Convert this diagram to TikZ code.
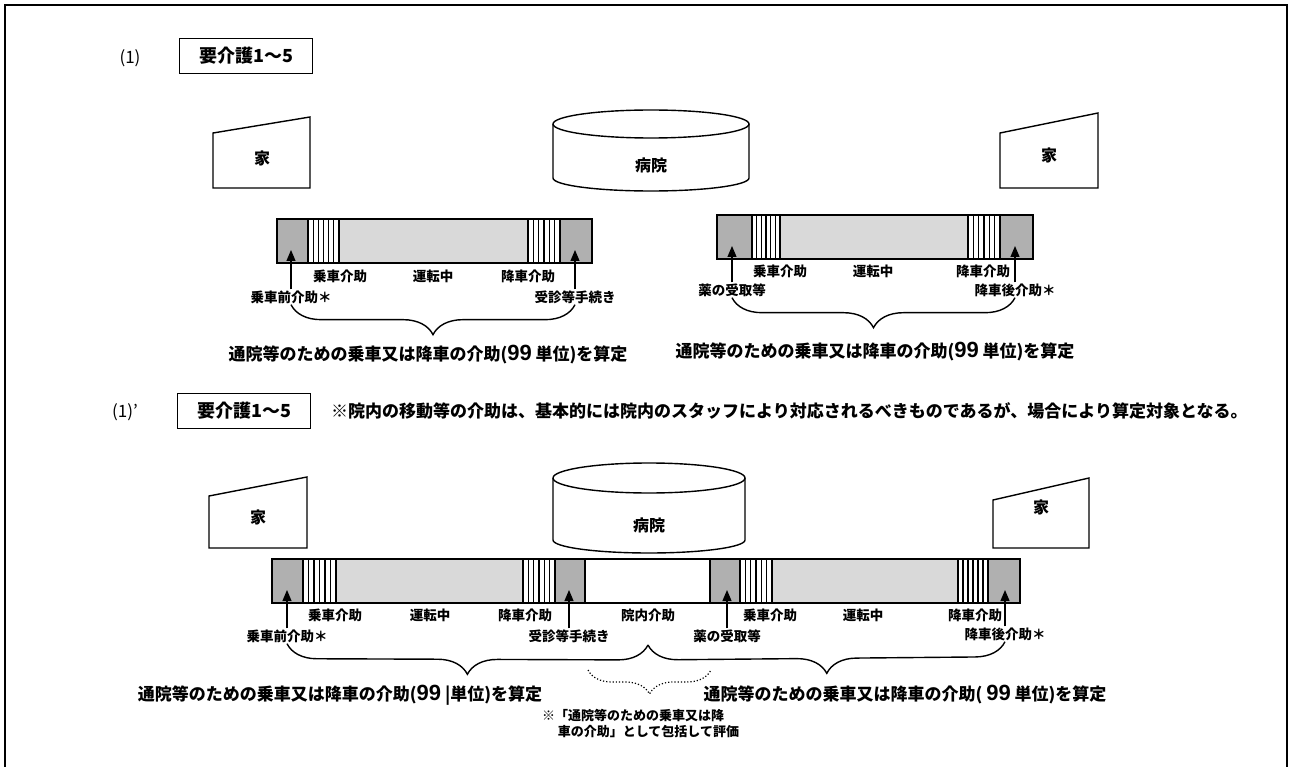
\documentclass[tikz,border=0pt]{standalone}
\usepackage{fontspec}
\setmainfont{Noto Sans CJK JP}
\newfontfamily\arialfont{Liberation Sans}
\usetikzlibrary{arrows.meta,calc,decorations.pathreplacing,positioning}
\newcommand{\nn}[1]{{\arialfont\bfseries\fontsize{22}{22}\selectfont #1}}

\begin{document}
\begin{tikzpicture}[x=1pt,y=-1pt]
  \tikzstyle{lbl}=[font=\bfseries\fontsize{13.5}{14}\selectfont,inner sep=1]
  \tikzstyle{big}=[font=\bfseries\fontsize{17}{18}\selectfont,inner sep=1]
  \tikzstyle{place}=[font=\bfseries\fontsize{16}{16}\selectfont,inner sep=1]
  \tikzstyle{tag}=[draw,line width=1.4,minimum width=133,minimum height=35,%
    font=\bfseries\fontsize{18}{18}\selectfont]
  \tikzstyle{seg}=[draw,line width=1.4,minimum height=44,inner sep=0,%
    outer sep=0,anchor=west]
  \tikzstyle{dark}=[seg,fill=gray!62]
  \tikzstyle{dots}=[seg,fill=gray!30]
  \tikzstyle{lines}=[seg,fill=white,path picture={%
    \foreach \k in {1,...,5}{\draw[line width=1.2]
      ($(path picture bounding box.north west)!\k/6!(path picture bounding box.north east)$)
      -- ++(0,60);}}]
  \tikzstyle{arr}=[-{Triangle[length=11pt,width=9pt]},line width=1.2,shorten >=9pt]
  \tikzstyle{brc}=[decorate,decoration={brace,mirror,amplitude=30pt},line width=1.4]
  \tikzstyle{outline}=[line width=1.4]

  \useasboundingbox (0,0) rectangle (1290,767);
  \draw[line width=2.5] (5,767) -- (5,5) -- (1287,5) -- (1287,767);

  % (1)
  \node[font=\fontsize{17}{17}\selectfont] (n1) at (130,58) {(1)};
  \node[tag] (k1) at (246,56) {要介護1～5};

  \draw[outline] (213,188) -- (213,133) -- (310,117) -- (310,188) -- cycle;
  \node[place] (h1) at (262,158) {家};
  \draw[outline] (553,124) -- (553,178) arc[start angle=180,end angle=0,x radius=98,y radius=13] -- (749,124);
  \draw[outline] (651,124) ellipse[x radius=98,y radius=14];
  \node[place] (s1) at (651,165) {病院};
  \draw[outline] (1000,188) -- (1000,133) -- (1098,113) -- (1098,188) -- cycle;
  \node[place] (h2) at (1049,155) {家};

  \node[dark,minimum width=31] (a1) at (277,241) {};
  \node[lines,minimum width=31] (a2) at (308,241) {};
  \node[dots,minimum width=189] (a3) at (339,241) {};
  \node[lines,minimum width=32] (a4) at (528,241) {};
  \node[dark,minimum width=32] (a5) at (560,241) {};

  \node[lbl] (b1) at (340,276) {乗車介助};
  \node[lbl] (b2) at (433,276) {運転中};
  \node[lbl] (b3) at (528,276) {降車介助};
  \node[lbl] (p1) at (291,297) {乗車前介助＊};
  \node[lbl] (p2) at (575,297) {受診等手続き};
  \draw[arr] (p1) -- (p1 |- a1.center);
  \draw[arr] (p2) -- (p2 |- a5.center);
  \draw[brc] (p1.south) -- (p2.south);
  \node[big] (t1) at (428,355) {通院等のための乗車又は降車の介助(\nn{99} 単位)を算定};

  \node[dark,minimum width=35] (c1) at (717,237) {};
  \node[lines,minimum width=28] (c2) at (752,237) {};
  \node[dots,minimum width=188] (c3) at (780,237) {};
  \node[lines,minimum width=32] (c4) at (968,237) {};
  \node[dark,minimum width=33] (c5) at (1000,237) {};

  \node[lbl] (d1) at (780,271) {乗車介助};
  \node[lbl] (d2) at (873,271) {運転中};
  \node[lbl] (d3) at (983,271) {降車介助};
  \node[lbl] (r1) at (732,290) {薬の受取等};
  \node[lbl] (r2) at (1015,290) {降車後介助＊};
  \draw[arr] (r1) -- (r1 |- c1.center);
  \draw[arr] (r2) -- (r2 |- c5.center);
  \draw[brc] (r1.south) -- (r2.south);
  \node[big] (t2) at (875,352) {通院等のための乗車又は降車の介助(\nn{99} 単位)を算定};

  % (1)'
  \node[font=\fontsize{17}{17}\selectfont] (n2) at (125,412) {(1)'};
  \node[tag] (k2) at (244,411) {要介護1～5};
  \node[big,anchor=west] (m1) at (330,411) {※院内の移動等の介助は、基本的には院内のスタッフにより対応されるべきものであるが、場合により算定対象となる。};

  \draw[outline] (209,548) -- (209,496) -- (307,477) -- (307,548) -- cycle;
  \node[place] (h3) at (258,517) {家};
  \draw[outline] (553,478) -- (553,540) arc[start angle=180,end angle=0,x radius=96,y radius=13] -- (745,478);
  \draw[outline] (649,478) ellipse[x radius=96,y radius=15];
  \node[place] (s2) at (649,525) {病院};
  \draw[outline] (993,548) -- (993,500) -- (1089,478) -- (1089,548) -- cycle;
  \node[place] (h4) at (1041,507) {家};

  \node[dark,minimum width=31] (e1) at (272,581) {};
  \node[lines,minimum width=33] (e2) at (303,581) {};
  \node[dots,minimum width=187] (e3) at (336,581) {};
  \node[lines,minimum width=32] (e4) at (523,581) {};
  \node[dark,minimum width=30] (e5) at (555,581) {};
  \node[seg,fill=white,minimum width=125] (e6) at (585,581) {};
  \node[dark,minimum width=30] (e7) at (710,581) {};
  \node[lines,minimum width=32] (e8) at (740,581) {};
  \node[dots,minimum width=186] (e9) at (772,581) {};
  \node[lines,minimum width=30] (e10) at (958,581) {};
  \node[dark,minimum width=32] (e11) at (988,581) {};

  \node[lbl] (f1) at (335,615) {乗車介助};
  \node[lbl] (f2) at (430,615) {運転中};
  \node[lbl] (f3) at (525,615) {降車介助};
  \node[lbl] (f4) at (648,615) {院内介助};
  \node[lbl] (f5) at (770,615) {乗車介助};
  \node[lbl] (f6) at (863,615) {運転中};
  \node[lbl] (f7) at (975,615) {降車介助};
  \node[lbl] (q1) at (287,636) {乗車前介助＊};
  \node[lbl] (q2) at (569,636) {受診等手続き};
  \node[lbl] (q3) at (727,636) {薬の受取等};
  \node[lbl] (q4) at (1005,634) {降車後介助＊};
  \draw[arr] (q1) -- (q1 |- e1.center);
  \draw[arr] (q2) -- (q2 |- e5.center);
  \draw[arr] (q3) -- (q3 |- e7.center);
  \draw[arr] (q4) -- (q4 |- e11.center);

  \coordinate (mid) at (648,645);
  \draw[brc] (q1.south) -- (mid);
  \draw[brc] (mid) -- (q4.south);
  \coordinate (g1) at (588,670);
  \coordinate (g2) at (711,670);
  \draw[decorate,decoration={brace,mirror,amplitude=24pt},line width=1.2,dotted] (g1) -- (g2);

  \node[big] (t3) at (340,695) {通院等のための乗車又は降車の介助(\nn{99} |単位)を算定};
  \node[big] (t4) at (905,695) {通院等のための乗車又は降車の介助( \nn{99} 単位)を算定};
  \node[lbl,anchor=north west,align=left,font=\bfseries\fontsize{13}{16}\selectfont] (nt) at (541,708)
    {※「通院等のための乗車又は降\\\hspace*{1.2em}車の介助」として包括して評価};
\end{tikzpicture}
\end{document}
